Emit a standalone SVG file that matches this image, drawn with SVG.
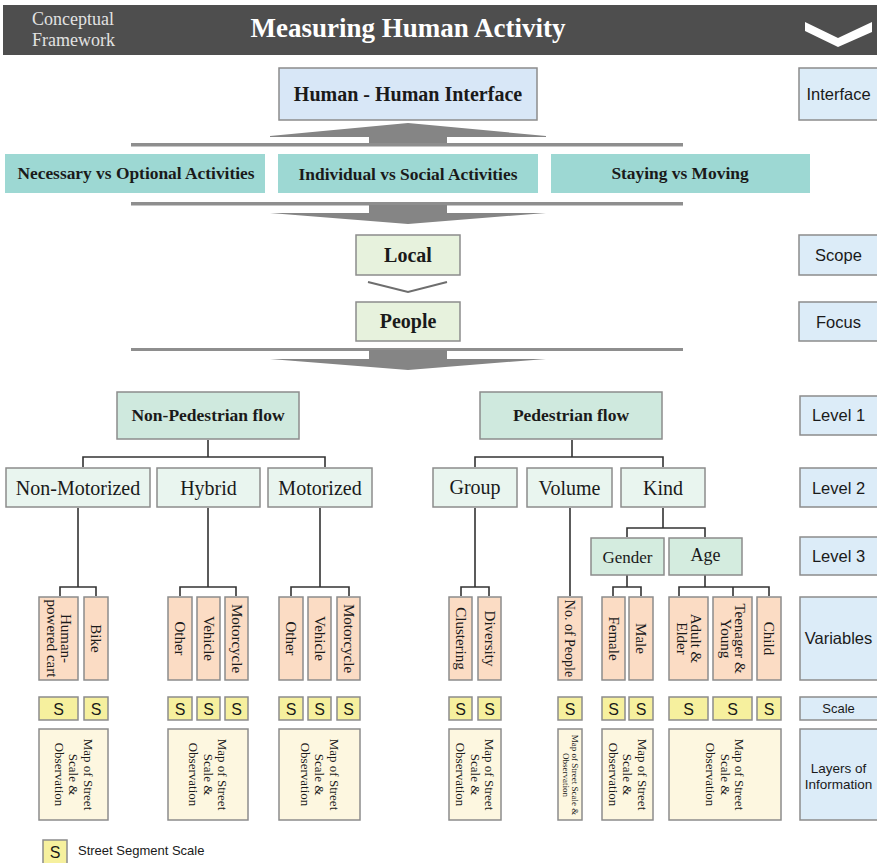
<svg xmlns="http://www.w3.org/2000/svg" width="877" height="863" viewBox="0 0 877 863">
  <style>
    .box { stroke: #8c8c8c; stroke-width: 1.5; }
    .iface { fill: #d8e7f7; }
    .teal { fill: #9dd8d3; stroke: none; }
    .green { fill: #e7f2dd; }
    .l1 { fill: #cfe9de; }
    .l2 { fill: #e9f5ef; }
    .l3 { fill: #d4ecdf; }
    .var { fill: #fbdcc4; }
    .sc { fill: #f6f09e; }
    .lay { fill: #fdf7e0; }
    .side { fill: #dcecf8; }
    .serif { font-family: "Liberation Serif", "Times New Roman", serif; fill: #1a1a1a; }
    .sans { font-family: "Liberation Sans", Arial, sans-serif; fill: #1a1a1a; }
    .b { font-weight: bold; }
    .mid { text-anchor: middle; }
    .conn { fill: none; stroke: #333333; stroke-width: 1.6; }
    .arrow { fill: #858585; }
  </style>

  <rect width="877" height="863" fill="#ffffff"/>

  <!-- header bar -->
  <g id="header">
    <rect x="3" y="5" width="874" height="50" fill="#4e4e4e"/>
    <text class="serif" x="32" y="25" font-size="18" style="fill:#e2e2e2">Conceptual</text>
    <text class="serif" x="32" y="46" font-size="18" style="fill:#e2e2e2">Framework</text>
    <text class="serif b mid" x="408" y="37" font-size="27" style="fill:#ffffff">Measuring Human Activity</text>
    <polygon points="805,22 838,38 872,22 872,32 838,47 805,31" fill="#ffffff"/>
  </g>

  <!-- block arrows -->
  <g id="arrows">
    <polygon class="arrow" points="270,136 408,123 546,136 546,137 270,137"/>
    <rect class="arrow" x="369" y="136" width="78" height="8"/>
    <rect x="131" y="143" width="552" height="3.5" fill="#8e8e8e"/>

    <rect x="131" y="202" width="552" height="3.5" fill="#8e8e8e"/>
    <rect class="arrow" x="369" y="205" width="78" height="9"/>
    <polygon class="arrow" points="270,213 546,213 408,224"/>

    <polyline points="368,282 408,292 447,282" fill="none" stroke="#6e6e6e" stroke-width="2"/>

    <rect x="131" y="348" width="552" height="3" fill="#8e8e8e"/>
    <rect class="arrow" x="369" y="350" width="78" height="9"/>
    <polygon class="arrow" points="270,359 546,359 408,370"/>
  </g>

  <!-- connectors -->
  <g id="connectors" class="conn">
    <path d="M208,440 V457 M83,467 V457 H325 V467"/>
    <path d="M572,440 V457 M475,467 V457 H663 V467"/>
    <path d="M78,508 V587 M60,596 V587 H96 V596"/>
    <path d="M208,508 V587 M180,596 V587 H236 V596"/>
    <path d="M320,508 V587 M291,596 V587 H349 V596"/>
    <path d="M475,508 V587 M461,596 V587 H489 V596"/>
    <path d="M570,508 V596"/>
    <path d="M663,508 V528 M627,537 V528 H705 V537"/>
    <path d="M627,575 V587 M613,596 V587 H641 V596"/>
    <path d="M705,575 V587 M679,596 V587 H769 V596 M733,587 V596"/>
  </g>

  <!-- top section -->
  <g id="hh-interface">
    <rect class="box iface" x="279" y="68" width="258" height="52"/>
    <text class="serif b mid" x="408" y="101" font-size="20">Human - Human Interface</text>
  </g>
  <g id="necessary-optional">
    <rect class="teal" x="5" y="154" width="260" height="39"/>
    <text class="serif b mid" x="136" y="179" font-size="17.4">Necessary vs Optional Activities</text>
  </g>
  <g id="individual-social">
    <rect class="teal" x="278" y="154" width="260" height="39"/>
    <text class="serif b mid" x="408" y="180" font-size="17.4">Individual vs Social Activities</text>
  </g>
  <g id="staying-moving">
    <rect class="teal" x="551" y="154" width="259" height="39"/>
    <text class="serif b mid" x="680" y="179" font-size="17.4">Staying vs Moving</text>
  </g>
  <g id="local">
    <rect class="box green" x="356" y="235" width="104" height="40"/>
    <text class="serif b mid" x="408" y="262" font-size="20">Local</text>
  </g>
  <g id="people">
    <rect class="box green" x="356" y="302" width="104" height="39"/>
    <text class="serif b mid" x="408" y="328" font-size="20">People</text>
  </g>

  <!-- level 1 -->
  <g id="non-pedestrian">
    <rect class="box l1" x="117" y="392" width="182" height="47"/>
    <text class="serif b mid" x="208" y="421" font-size="17.5">Non-Pedestrian flow</text>
  </g>
  <g id="pedestrian">
    <rect class="box l1" x="480" y="392" width="182" height="47"/>
    <text class="serif b mid" x="571" y="421" font-size="17.5">Pedestrian flow</text>
  </g>

  <!-- level 2 -->
  <g id="non-motorized">
    <rect class="box l2" x="6" y="468" width="144" height="39"/>
    <text class="serif mid" x="78" y="495" font-size="20">Non-Motorized</text>
  </g>
  <g id="hybrid">
    <rect class="box l2" x="157" y="468" width="103" height="39"/>
    <text class="serif mid" x="208.5" y="495" font-size="20">Hybrid</text>
  </g>
  <g id="motorized">
    <rect class="box l2" x="268" y="468" width="104" height="39"/>
    <text class="serif mid" x="320" y="495" font-size="20">Motorized</text>
  </g>
  <g id="group">
    <rect class="box l2" x="433" y="468" width="84" height="39"/>
    <text class="serif mid" x="475" y="494" font-size="20">Group</text>
  </g>
  <g id="volume">
    <rect class="box l2" x="527" y="468" width="85" height="39"/>
    <text class="serif mid" x="569.5" y="495" font-size="20">Volume</text>
  </g>
  <g id="kind">
    <rect class="box l2" x="621" y="468" width="84" height="39"/>
    <text class="serif mid" x="663" y="495" font-size="20">Kind</text>
  </g>

  <!-- level 3 -->
  <g id="gender">
    <rect class="box l3" x="591" y="538" width="73" height="37"/>
    <text class="serif mid" x="627.5" y="563" font-size="17">Gender</text>
  </g>
  <g id="age">
    <rect class="box l3" x="669" y="538" width="73" height="37"/>
    <text class="serif mid" x="705.5" y="561" font-size="18">Age</text>
  </g>

  <!-- variables -->
  <g id="var-human-cart">
    <rect class="box var" x="39" y="597" width="39" height="83"/>
    <text class="serif mid" font-size="15" transform="translate(58.5,638.5) rotate(90)"><tspan x="0" y="-2">Human-</tspan><tspan x="0" y="12">powered cart</tspan></text>
  </g>
  <g id="var-bike">
    <rect class="box var" x="84" y="597" width="24" height="83"/>
    <text class="serif mid" font-size="15" transform="translate(96,638.5) rotate(90)" y="5">Bike</text>
  </g>
  <g id="var-hybrid-other">
    <rect class="box var" x="168" y="597" width="24" height="83"/>
    <text class="serif mid" font-size="15" transform="translate(180,638.5) rotate(90)" y="5">Other</text>
  </g>
  <g id="var-hybrid-vehicle">
    <rect class="box var" x="197" y="597" width="23" height="83"/>
    <text class="serif mid" font-size="15" transform="translate(208.5,638.5) rotate(90)" y="5">Vehicle</text>
  </g>
  <g id="var-hybrid-motorcycle">
    <rect class="box var" x="225" y="597" width="23" height="83"/>
    <text class="serif mid" font-size="15" transform="translate(236.5,638.5) rotate(90)" y="5">Motorcycle</text>
  </g>
  <g id="var-motor-other">
    <rect class="box var" x="279" y="597" width="24" height="83"/>
    <text class="serif mid" font-size="15" transform="translate(291,638.5) rotate(90)" y="5">Other</text>
  </g>
  <g id="var-motor-vehicle">
    <rect class="box var" x="308" y="597" width="23" height="83"/>
    <text class="serif mid" font-size="15" transform="translate(319.5,638.5) rotate(90)" y="5">Vehicle</text>
  </g>
  <g id="var-motor-motorcycle">
    <rect class="box var" x="337" y="597" width="23" height="83"/>
    <text class="serif mid" font-size="15" transform="translate(348.5,638.5) rotate(90)" y="5">Motorcycle</text>
  </g>
  <g id="var-clustering">
    <rect class="box var" x="449" y="597" width="23" height="83"/>
    <text class="serif mid" font-size="15" transform="translate(460.5,638.5) rotate(90)" y="5">Clustering</text>
  </g>
  <g id="var-diversity">
    <rect class="box var" x="478" y="597" width="23" height="83"/>
    <text class="serif mid" font-size="15" transform="translate(489.5,638.5) rotate(90)" y="5">Diversity</text>
  </g>
  <g id="var-no-people">
    <rect class="box var" x="558" y="597" width="24" height="83"/>
    <text class="serif mid" font-size="14" transform="translate(570,638.5) rotate(90)" y="5">No. of People</text>
  </g>
  <g id="var-female">
    <rect class="box var" x="602" y="597" width="23" height="83"/>
    <text class="serif mid" font-size="15" transform="translate(613.5,638.5) rotate(90)" y="5">Female</text>
  </g>
  <g id="var-male">
    <rect class="box var" x="629" y="597" width="24" height="83"/>
    <text class="serif mid" font-size="15" transform="translate(641,638.5) rotate(90)" y="5">Male</text>
  </g>
  <g id="var-adult-elder">
    <rect class="box var" x="669" y="597" width="39" height="83"/>
    <text class="serif mid" font-size="15" transform="translate(688.5,638.5) rotate(90)"><tspan x="0" y="-2">Adult &amp;</tspan><tspan x="0" y="12">Elder</tspan></text>
  </g>
  <g id="var-teen-young">
    <rect class="box var" x="713" y="597" width="39" height="83"/>
    <text class="serif mid" font-size="15" transform="translate(732.5,638.5) rotate(90)"><tspan x="0" y="-2">Teenager &amp;</tspan><tspan x="0" y="12">Young</tspan></text>
  </g>
  <g id="var-child">
    <rect class="box var" x="757" y="597" width="24" height="83"/>
    <text class="serif mid" font-size="15" transform="translate(769,638.5) rotate(90)" y="5">Child</text>
  </g>

  <!-- scale markers -->
  <g id="scale-row" class="sans mid" font-size="16">
    <rect class="box sc" x="39" y="697" width="39" height="23"/><text x="58.5" y="714.5">S</text>
    <rect class="box sc" x="84" y="697" width="24" height="23"/><text x="96" y="714.5">S</text>
    <rect class="box sc" x="168" y="697" width="24" height="23"/><text x="180" y="714.5">S</text>
    <rect class="box sc" x="197" y="697" width="23" height="23"/><text x="208.5" y="714.5">S</text>
    <rect class="box sc" x="225" y="697" width="23" height="23"/><text x="236.5" y="714.5">S</text>
    <rect class="box sc" x="279" y="697" width="24" height="23"/><text x="291" y="714.5">S</text>
    <rect class="box sc" x="308" y="697" width="23" height="23"/><text x="319.5" y="714.5">S</text>
    <rect class="box sc" x="337" y="697" width="23" height="23"/><text x="348.5" y="714.5">S</text>
    <rect class="box sc" x="449" y="697" width="23" height="23"/><text x="460.5" y="714.5">S</text>
    <rect class="box sc" x="478" y="697" width="23" height="23"/><text x="489.5" y="714.5">S</text>
    <rect class="box sc" x="558" y="697" width="24" height="23"/><text x="570" y="714.5">S</text>
    <rect class="box sc" x="602" y="697" width="23" height="23"/><text x="613.5" y="714.5">S</text>
    <rect class="box sc" x="629" y="697" width="24" height="23"/><text x="641" y="714.5">S</text>
    <rect class="box sc" x="669" y="697" width="39" height="23"/><text x="688.5" y="714.5">S</text>
    <rect class="box sc" x="713" y="697" width="39" height="23"/><text x="732.5" y="714.5">S</text>
    <rect class="box sc" x="757" y="697" width="24" height="23"/><text x="769" y="714.5">S</text>
  </g>

  <!-- layers of information -->
  <g id="layer-non-motorized">
    <rect class="box lay" x="39" y="729" width="69" height="91"/>
    <text class="serif mid" font-size="13" transform="translate(73.5,774.5) rotate(90)"><tspan x="0" y="-10">Map of Street</tspan><tspan x="0" y="4.5">Scale &amp;</tspan><tspan x="0" y="19">Observation</tspan></text>
  </g>
  <g id="layer-hybrid">
    <rect class="box lay" x="168" y="729" width="80" height="91"/>
    <text class="serif mid" font-size="13" transform="translate(208,774.5) rotate(90)"><tspan x="0" y="-10">Map of Street</tspan><tspan x="0" y="4.5">Scale &amp;</tspan><tspan x="0" y="19">Observation</tspan></text>
  </g>
  <g id="layer-motorized">
    <rect class="box lay" x="279" y="729" width="81" height="91"/>
    <text class="serif mid" font-size="13" transform="translate(319.5,774.5) rotate(90)"><tspan x="0" y="-10">Map of Street</tspan><tspan x="0" y="4.5">Scale &amp;</tspan><tspan x="0" y="19">Observation</tspan></text>
  </g>
  <g id="layer-group">
    <rect class="box lay" x="449" y="729" width="52" height="91"/>
    <text class="serif mid" font-size="13" transform="translate(475,774.5) rotate(90)"><tspan x="0" y="-10">Map of Street</tspan><tspan x="0" y="4.5">Scale &amp;</tspan><tspan x="0" y="19">Observation</tspan></text>
  </g>
  <g id="layer-volume">
    <rect class="box lay" x="558" y="729" width="24" height="91"/>
    <text class="serif mid" font-size="9" transform="translate(570,775) rotate(90)"><tspan x="0" y="-2">Map of Street Scale &amp;</tspan><tspan x="0" y="7.5">Observation</tspan></text>
  </g>
  <g id="layer-gender">
    <rect class="box lay" x="602" y="729" width="51" height="91"/>
    <text class="serif mid" font-size="13" transform="translate(627.5,774.5) rotate(90)"><tspan x="0" y="-10">Map of Street</tspan><tspan x="0" y="4.5">Scale &amp;</tspan><tspan x="0" y="19">Observation</tspan></text>
  </g>
  <g id="layer-age">
    <rect class="box lay" x="669" y="729" width="112" height="91"/>
    <text class="serif mid" font-size="13" transform="translate(725,774.5) rotate(90)"><tspan x="0" y="-10">Map of Street</tspan><tspan x="0" y="4.5">Scale &amp;</tspan><tspan x="0" y="19">Observation</tspan></text>
  </g>

  <!-- side labels -->
  <g id="label-interface">
    <rect class="box side" x="799" y="68" width="82" height="52"/>
    <text class="sans mid" x="838.5" y="100" font-size="16.5">Interface</text>
  </g>
  <g id="label-scope">
    <rect class="box side" x="799" y="235" width="82" height="40"/>
    <text class="sans mid" x="838.5" y="261" font-size="16.5">Scope</text>
  </g>
  <g id="label-focus">
    <rect class="box side" x="799" y="302" width="82" height="39"/>
    <text class="sans mid" x="838.5" y="328" font-size="16.5">Focus</text>
  </g>
  <g id="label-level1">
    <rect class="box side" x="800" y="396" width="81" height="39"/>
    <text class="sans mid" x="838.5" y="421" font-size="16.5">Level 1</text>
  </g>
  <g id="label-level2">
    <rect class="box side" x="800" y="468" width="81" height="39"/>
    <text class="sans mid" x="838.5" y="494" font-size="16.5">Level 2</text>
  </g>
  <g id="label-level3">
    <rect class="box side" x="800" y="537" width="81" height="38"/>
    <text class="sans mid" x="838.5" y="562" font-size="16.5">Level 3</text>
  </g>
  <g id="label-variables">
    <rect class="box side" x="800" y="597" width="81" height="83"/>
    <text class="sans mid" x="838.5" y="644" font-size="16.5">Variables</text>
  </g>
  <g id="label-scale">
    <rect class="box side" x="800" y="697" width="81" height="23"/>
    <text class="sans mid" x="838.5" y="713" font-size="13">Scale</text>
  </g>
  <g id="label-layers">
    <rect class="box side" x="800" y="729" width="81" height="91"/>
    <text class="sans mid" x="838.5" y="773" font-size="13.5">Layers of</text>
    <text class="sans mid" x="838.5" y="789" font-size="13.5">Information</text>
  </g>

  <!-- legend -->
  <g id="legend">
    <rect class="box sc" x="43" y="840" width="24" height="24"/>
    <text class="sans mid" x="55" y="858" font-size="16">S</text>
    <text class="sans" x="78" y="855" font-size="13">Street Segment Scale</text>
  </g>
</svg>
